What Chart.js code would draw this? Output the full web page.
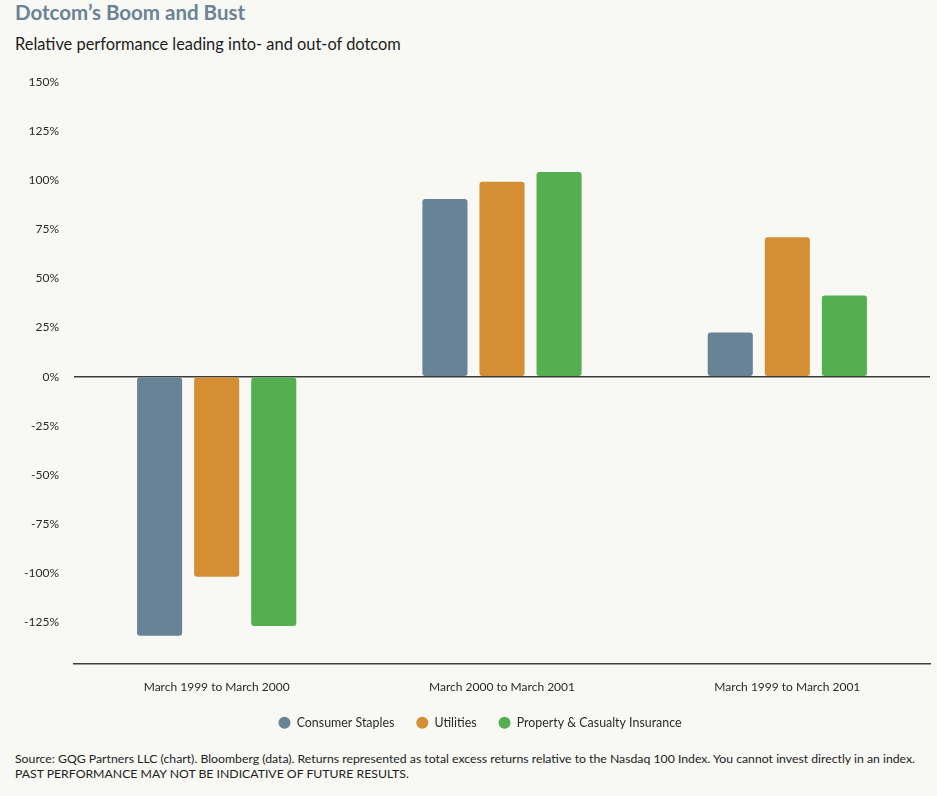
<!DOCTYPE html>
<html>
<head>
<meta charset="utf-8">
<script src="https://cdn.jsdelivr.net/npm/chart.js@4"></script>
<style>
  body { margin: 0; background: #f8f8f4; font-family: Lato, sans-serif; }
  #page { position: relative; width: 937px; height: 796px; overflow: hidden; }
  #title { position: absolute; left: 15px; top: 0px; font-size: 20.5px; font-weight: 700; color: #6b8395; }
  #subtitle { position: absolute; left: 15px; top: 34px; font-size: 16.4px; color: #1c1c1c; }
  #wrap { position: absolute; left: 0; top: 60px; width: 937px; height: 679px; }
  #footer { position: absolute; left: 15px; top: 751px; font-size: 12.25px; line-height: 15px; color: #222; }
</style>
</head>
<body>
<div id="page">
  <div id="title">Dotcom’s Boom and Bust</div>
  <div id="subtitle">Relative performance leading into- and out-of dotcom</div>
  <div id="wrap"><canvas id="chart"></canvas></div>
  <div id="footer">Source: GQG Partners LLC (chart). Bloomberg (data). Returns represented as total excess returns relative to the Nasdaq 100 Index. You cannot invest directly in an index.<br>PAST PERFORMANCE MAY NOT BE INDICATIVE OF FUTURE RESULTS.</div>
</div>
<script>
// chart data
const periods = ['March 1999 to March 2000', 'March 2000 to March 2001', 'March 1999 to March 2001'];
const consumerStaples = [-132, 90.5, 22.5];
const utilities = [-102, 99.3, 71];
const propertyCasualty = [-127, 104.2, 41.3];
const yTicks = [-125, -100, -75, -50, -25, 0, 25, 50, 75, 100, 125, 150];

const tickFont = { family: 'Lato', size: 12 };

// legend sits tighter under the axis labels than Chart.js puts it
const legendNudge = {
    id: 'legendNudge',
    beforeLayout(chart) {
        const legend = chart.legend;
        if (legend && !legend._nudged) {
            const fit = legend.fit;
            legend.fit = function () { fit.call(this); this.height -= 8; };
            legend._nudged = true;
        }
    },
    afterLayout(chart) {
        const legend = chart.legend;
        legend.top -= 8;
        legend.bottom -= 8;
        legend.left += 15;
        legend.right += 15;
    }
};

new Chart(document.getElementById('chart'), {
    type: 'bar',
    data: {
        labels: periods,
        datasets: [
            { label: 'Consumer Staples', data: consumerStaples, backgroundColor: '#698396' },
            { label: 'Utilities', data: utilities, backgroundColor: '#d58e33' },
            { label: 'Property & Casualty Insurance', data: propertyCasualty, backgroundColor: '#54af50' }
        ]
    },
    options: {
        responsive: true,
        maintainAspectRatio: false,
        animation: false,
        layout: { padding: { top: 9, right: 7, left: 0, bottom: 0 } },
        datasets: {
            bar: { categoryPercentage: 0.6, barPercentage: 0.79, borderRadius: 3, borderSkipped: false }
        },
        scales: {
            x: {
                grid: { display: false },
                border: { display: true, color: '#3c3c3c', width: 1.5 },
                ticks: { color: '#2a2a2a', font: tickFont, padding: 8, maxRotation: 0 }
            },
            y: {
                min: -146.5,
                max: 150,
                afterBuildTicks: (scale) => { scale.ticks = yTicks.map(v => ({ value: v })); },
                afterFit: (scale) => { scale.width = 74; },
                border: { display: false },
                grid: {
                    drawTicks: false,
                    lineWidth: 1.5,
                    color: (ctx) => ctx.tick && ctx.tick.value === 0 ? '#3c3c3c' : 'rgba(0,0,0,0)'
                },
                ticks: { color: '#2a2a2a', font: tickFont, padding: 15, callback: (v) => v + '%' }
            }
        },
        plugins: {
            legend: {
                position: 'bottom',
                labels: {
                    usePointStyle: true,
                    pointStyle: 'circle',
                    boxWidth: 12,
                    boxHeight: 8.5,
                    padding: 22,
                    color: '#2a2a2a',
                    font: { family: 'Lato', size: 12.4 }
                }
            },
            tooltip: { enabled: false }
        }
    },
    plugins: [legendNudge]
});
</script>
</body>
</html>
